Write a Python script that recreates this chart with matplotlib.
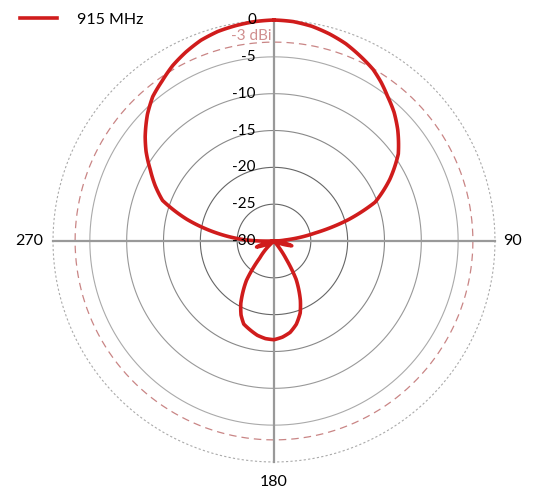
import numpy as np
import matplotlib
matplotlib.use('Agg')
import matplotlib.pyplot as plt
from matplotlib.transforms import offset_copy

plt.rcParams['font.family'] = ['Lato', 'DejaVu Sans']

# radiation pattern (deg clockwise from top, dBi)
angles_deg = [0, 5, 10, 15, 20, 25, 30, 34, 38, 43, 48, 55, 62, 69, 74, 79, 85, 90,
              97, 101, 105, 109, 116, 125, 140, 146, 150, 156, 160, 165, 170, 175,
              180, 185, 190, 195, 200, 204, 208, 215, 220, 230, 240, 247, 251, 255,
              262, 268, 272, 278, 284, 290, 295, 300, 305, 309, 315, 320, 325, 330,
              335, 340, 345, 350, 355, 360]
gain_db = [0, -0.1, -0.4, -0.9, -1.5, -2.3, -3.1, -4.0, -5.0, -6.1, -7.4, -9.4,
           -12.2, -15.3, -19.5, -24.3, -28.5, -31, -31, -28.5, -27.5, -28.5, -31,
           -35, -31, -27, -24, -21.2, -19.6, -18.3, -17.4, -16.9, -16.6, -16.7,
           -17.0, -17.5, -18.0, -19.0, -20.4, -23.5, -27, -33, -32, -28.5, -27.5,
           -28.5, -31, -32, -26.3, -22.1, -17.8, -13.9, -12.2, -10.6, -8.8, -7.5,
           -5.7, -4.4, -3.5, -2.5, -1.7, -1.0, -0.55, -0.3, -0.1, 0]
series_name = '915 MHz'

ring_values = [0, -5, -10, -15, -20, -25]
ring_labels = ['0', '-5', '-10', '-15', '-20', '-25', '-30']
ref_level = -3
ref_label = '-3 dBi'
r_min, r_max = -30, 0

red = '#d01c1c'

fig = plt.figure(figsize=(5.47, 4.94), dpi=100)
ax = fig.add_axes([0.0969, 0.0648, 0.808, 0.8947], projection='polar')
ax.set_theta_zero_location('N')
ax.set_theta_direction(-1)
ax.set_rlim(r_min, r_max)
ax.grid(False)
ax.set_xticks([])
ax.set_yticks([])
ax.spines['polar'].set_visible(False)

# rings
circ = np.linspace(0, 2 * np.pi, 721)
ring_styles = {
    0: dict(color='#aaaaaa', lw=0.8, ls=(0, (2, 2))),
    -5: dict(color='#aaaaaa', lw=0.8, ls='-'),
    -10: dict(color='#999999', lw=0.8, ls='-'),
    -15: dict(color='#888888', lw=0.8, ls='-'),
    -20: dict(color='#666666', lw=0.8, ls='-'),
    -25: dict(color='#666666', lw=0.8, ls='-'),
}
for v in ring_values:
    ax.plot(circ, np.full_like(circ, v), clip_on=False, **ring_styles[v])
ax.plot(circ, np.full_like(circ, ref_level), color='#c98585', lw=0.9,
        ls=(0, (6, 4)), clip_on=False)

# cross axes
for a in [0, 90, 180, 270]:
    ax.plot([np.deg2rad(a)] * 2, [r_min, r_max], color='#999999', lw=1.6,
            clip_on=False, zorder=2)

# pattern (drawn as arcs between samples in polar space)
th = np.deg2rad(angles_deg)
r = np.maximum(np.array(gain_db), r_min)
line, = ax.plot(th, r, color=red, lw=2.6, clip_on=False, zorder=5,
                solid_joinstyle='round', label=series_name)
line.get_path()._interpolation_steps = 40

# radial labels
lab_tr = offset_copy(ax.transData, fig=fig, x=-0.18, y=0, units='inches')
for v, t in zip(ring_values + [r_min], ring_labels):
    ax.text(0, v, t, transform=lab_tr, ha='right', va='center', fontsize=11,
            color='black', zorder=6)
ref_tr = offset_copy(ax.transData, fig=fig, x=-0.02, y=0.065, units='inches')
ax.text(0, ref_level, ref_label, transform=ref_tr, ha='right', va='center',
        fontsize=11, color='#d08f8f', zorder=6)

# angle labels
angle_labels = {90: '90', 180: '180', 270: '270'}
offsets = {90: (0.08, 0, 'left', 'center'), 180: (0, -0.2, 'center', 'center'),
           270: (-0.1, 0, 'right', 'center')}
for a, t in angle_labels.items():
    dx, dy, ha, va = offsets[a]
    tr = offset_copy(ax.transData, fig=fig, x=dx, y=dy, units='inches')
    ax.text(np.deg2rad(a), r_max, t, transform=tr, ha=ha, va=va, fontsize=11.5)

fig.legend(handles=[line], loc='center left', bbox_to_anchor=(20 / 547, 1 - 20 / 494),
           frameon=False, fontsize=11.5, handlelength=2.3, handletextpad=1.25,
           borderpad=0, borderaxespad=0)

fig.savefig('out.png', dpi=100)
